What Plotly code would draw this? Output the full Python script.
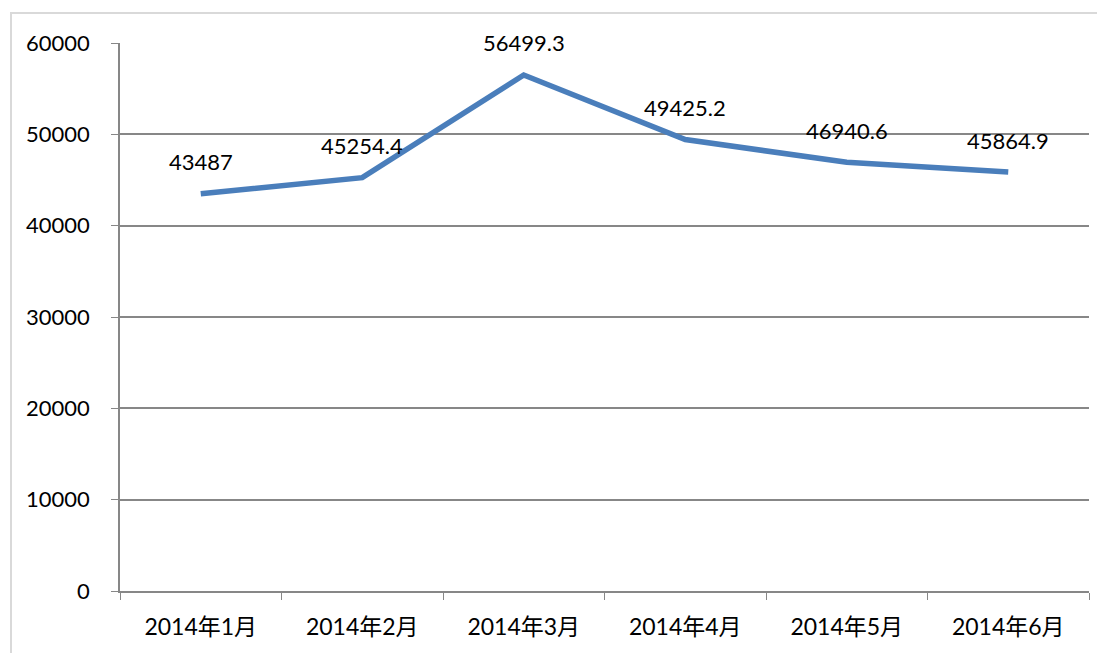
import plotly.graph_objects as go

categories = ["2014年1月", "2014年2月", "2014年3月", "2014年4月", "2014年5月", "2014年6月"]
values = [43487, 45254.4, 56499.3, 49425.2, 46940.6, 45864.9]
value_labels = ["43487", "45254.4", "56499.3", "49425.2", "46940.6", "45864.9"]
y_ticks = [0, 10000, 20000, 30000, 40000, 50000, 60000]

FONT = "Lato, 'Noto Sans CJK SC', sans-serif"
GRID = "#878787"

fig = go.Figure()
fig.add_trace(go.Scatter(
    x=categories, y=values, mode="lines",
    line=dict(color="#4a7ebb", width=5.5),
    hoverinfo="skip", showlegend=False,
))
for c, v, t in zip(categories, values, value_labels):
    fig.add_annotation(x=c, y=v, text=t, showarrow=False, yshift=32,
                       font=dict(size=22, color="#000000", family=FONT))

fig.update_layout(
    width=1097, height=645,
    margin=dict(l=112, r=16, t=35, b=62),
    paper_bgcolor="white", plot_bgcolor="white",
    font=dict(family=FONT, size=22, color="#000000"),
    xaxis=dict(
        type="category", range=[-0.5, 5.5], tickson="boundaries",
        ticks="outside", ticklen=7,
        tickcolor=GRID, showline=True, linecolor=GRID, linewidth=1.5,
        showgrid=False, ticklabelstandoff=15,
        tickfont=dict(size=23, family=FONT),
    ),
    yaxis=dict(
        range=[0, 60000], tickvals=y_ticks, tickformat="d",
        ticks="outside", ticklen=7,
        tickcolor=GRID, showline=True, linecolor=GRID, linewidth=1.5,
        showgrid=True, gridcolor=GRID, gridwidth=1.5, zeroline=False,
        ticklabelstandoff=17, tickfont=dict(size=22, family=FONT),
    ),
    shapes=[dict(type="rect", xref="paper", yref="paper",
                 x0=-0.1125, x1=1.05, y0=-0.2, y1=1.0547,
                 line=dict(color="#d9d9d9", width=2), layer="below")],
)

fig.write_html("out.html")
